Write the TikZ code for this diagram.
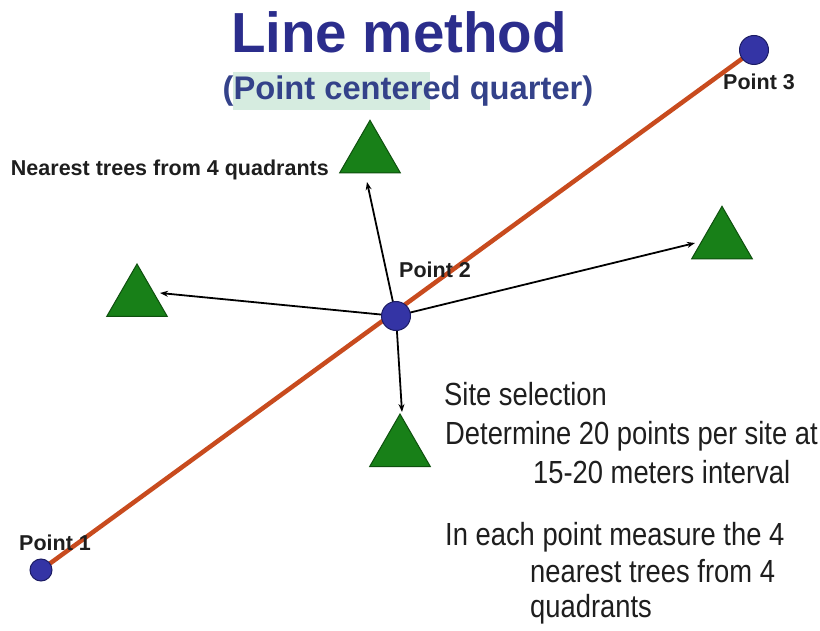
\documentclass[tikz,border=0pt]{standalone}
\usepackage{fontspec}
\setmainfont{Liberation Sans}
\newfontfamily\narrowfont[FakeStretch=0.855]{Liberation Sans}
\usetikzlibrary{arrows.meta,shapes.geometric,backgrounds}
\definecolor{titleblue}{RGB}{43,45,140}
\definecolor{subblue}{RGB}{52,66,138}
\definecolor{hlgreen}{RGB}{214,236,224}
\definecolor{linered}{RGB}{200,75,30}
\definecolor{ptfill}{RGB}{52,52,165}
\definecolor{ptdraw}{RGB}{28,28,100}
\definecolor{treefill}{RGB}{24,128,24}
\definecolor{treedraw}{RGB}{14,80,14}
\definecolor{txtdark}{RGB}{30,30,30}
\tikzset{
  ptbig/.style={circle,fill=ptfill,draw=ptdraw,line width=1pt,inner sep=0pt,minimum size=29pt},
  ptsmall/.style={ptbig,minimum size=22pt},
  tree/.style={regular polygon,regular polygon sides=3,fill=treefill,draw=treedraw,line width=1pt,inner sep=0pt,minimum size=70pt},
  ptlabel/.style={font=\bfseries\fontsize{21.5}{24}\selectfont,text=txtdark,inner sep=0pt},
  body/.style={font=\narrowfont\fontsize{32}{36}\selectfont,text=txtdark,anchor=base west,inner sep=0pt},
  transect/.style={draw=linered,line width=4.5pt},
  measure/.style={draw=black,line width=1.8pt,-{Stealth[length=8pt,width=6pt]}}
}
\begin{document}
\begin{tikzpicture}[x=1pt,y=-1pt]
\useasboundingbox (0,0) rectangle (820,631);
% title
\fill[hlgreen] (233,72) rectangle (430,110);
\node[font=\bfseries\fontsize{56.5}{60}\selectfont,text=titleblue,anchor=base,inner sep=0pt] (title) at (399,53) {Line method};
\node[font=\bfseries\fontsize{32.7}{36}\selectfont,text=subblue,anchor=base,inner sep=0pt] (subtitle) at (408,100) {(Point centered quarter)};
% points
\node[ptsmall] (p1) at (41,570) {};
\node[ptbig] (p2) at (396,316) {};
\node[ptbig] (p3) at (754,50) {};
% trees
\node[tree] (ttop) at (370,155.3) {};
\node[tree] (tleft) at (137,299) {};
\node[tree] (tright) at (722,241.3) {};
\node[tree] (tbottom) at (400,449) {};
% arrow ends
\coordinate (etop) at (367,182);
\coordinate (eleft) at (160,293);
\coordinate (eright) at (695,243);
\coordinate (ebottom) at (402,412);
\begin{scope}[on background layer]
  \draw[transect] (p1.center) -- (p3.center);
  \draw[measure] (p2.center) -- (etop);
  \draw[measure] (p2.center) -- (eleft);
  \draw[measure] (p2.center) -- (eright);
  \draw[measure] (p2.center) -- (ebottom);
\end{scope}
% labels
\node[ptlabel] (l1) at (55,543) {Point 1};
\node[ptlabel] (l2) at (435,270) {Point 2};
\node[ptlabel] (l3) at (759,82) {Point 3};
\node[ptlabel,anchor=east] (lnear) at (329,170) {Nearest trees from 4 quadrants};
% text block
\node[body] (s1) at (444,405) {Site selection};
\node[body] (s2) at (445,444) {Determine 20 points per site at};
\node[body] (s3) at (533,483) {15-20 meters interval};
\node[body] (s4) at (445,545) {In each point measure the 4};
\node[body] (s5) at (530,582) {nearest trees from 4};
\node[body] (s6) at (530,617) {quadrants};
\end{tikzpicture}
\end{document}
